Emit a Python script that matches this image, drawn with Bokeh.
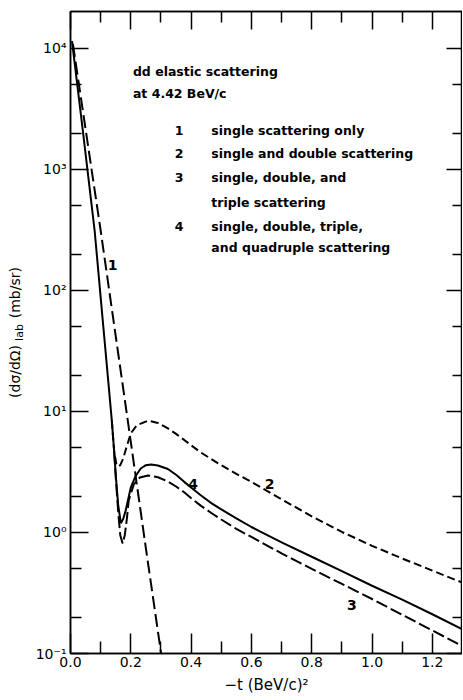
from bokeh.plotting import figure
from bokeh.models import (LinearAxis, LogAxis, FixedTicker, Range1d, Title,
                          NumeralTickFormatter)
from bokeh.core.properties import value
from bokeh.embed import file_html
from bokeh.resources import INLINE

# ---------------- data ----------------
# shared steep forward peak of curves 2, 3, 4
t_common = [0.005, 0.04, 0.08, 0.11, 0.137, 0.145]
y_common = [11500, 2190, 313, 46.7, 8.4, 4.6]

# curve 1: single scattering only
t_c1 = [0.008, 0.10, 0.19, 0.25, 0.30, 0.306]
y_c1 = [10900, 313, 8.4, 0.74, 0.102, 0.088]

# curve 2: single and double scattering
t_c2 = [0.152, 0.158, 0.165, 0.175, 0.185, 0.2, 0.22, 0.257, 0.29, 0.323,
        0.35, 0.377, 0.405, 0.433, 0.49, 0.55, 0.6, 0.7, 0.8, 0.9, 1.0,
        1.1, 1.2, 1.3]
y_c2 = [3.7, 3.5, 3.6, 4.1, 5.0, 6.6, 7.7, 8.4, 8.04, 7.24,
        6.53, 5.82, 5.15, 4.57, 3.72, 3.05, 2.62, 1.88, 1.36, 1.01, 0.776,
        0.61, 0.484, 0.385]

# curve 3: single, double and triple scattering
t_c3 = [0.15, 0.158, 0.165, 0.173, 0.18, 0.187, 0.193, 0.21, 0.23, 0.257,
        0.29, 0.323, 0.35, 0.377, 0.405, 0.433, 0.467, 0.5, 0.55, 0.6, 0.7,
        0.8, 0.9, 1.0, 1.1, 1.2, 1.3]
y_c3 = [2.9, 1.5, 0.95, 0.81, 0.95, 1.3, 1.84, 2.5, 2.85, 2.96,
        2.86, 2.64, 2.4, 2.15, 1.88, 1.66, 1.45, 1.28, 1.07, 0.918, 0.672,
        0.50, 0.376, 0.282, 0.209, 0.155, 0.115]

# curve 4: single, double, triple and quadruple scattering
t_c4 = [0.15, 0.158, 0.167, 0.175, 0.183, 0.2, 0.217, 0.233, 0.25, 0.267,
        0.29, 0.323, 0.35, 0.377, 0.405, 0.433, 0.467, 0.5, 0.55, 0.6, 0.7,
        0.8, 0.9, 1.0, 1.1, 1.2, 1.3]
y_c4 = [3.0, 1.7, 1.19, 1.3, 1.52, 2.36, 2.96, 3.38, 3.6, 3.65,
        3.58, 3.35, 3.0, 2.62, 2.3, 2.02, 1.75, 1.55, 1.31, 1.11, 0.83,
        0.63, 0.48, 0.363, 0.279, 0.211, 0.158]

x_major = [0.0, 0.2, 0.4, 0.6, 0.8, 1.0, 1.2]
x_minor = [0.1, 0.3, 0.5, 0.7, 0.9, 1.1]
y_major = [0.1, 1, 10, 100, 1000, 10000]
y_minor = [0.2, 0.5, 2, 5, 20, 50, 200, 500, 2000, 5000]
y_major_labels = ["10⁻¹", "10⁰", "10¹", "10²", "10³", "10⁴"]

title_lines = ["dd elastic scattering", "at 4.42 BeV/c"]
title_y = [6460, 4250]
legend_nums = ["1", "2", "3", "", "4", ""]
legend_text = ["single scattering only", "single and double scattering",
               "single, double, and", "triple scattering",
               "single, double, triple,", "and quadruple scattering"]
legend_y = [2100, 1355, 859, 533, 338, 226]

curve_labels = ["1", "4", "2", "3"]
curve_label_t = [0.14, 0.407, 0.66, 0.933]
curve_label_y = [161, 2.54, 2.54, 0.254]

FONT = "DejaVu Sans"
TXT_SIZE = "12.5px"
TXT_STYLE = "bold"

# ---------------- figure ----------------
p = figure(width=462, height=698, x_range=Range1d(0, 1.3),
           y_range=Range1d(0.1, 20200), y_axis_type="log",
           output_backend="svg", toolbar_location=None,
           min_border_left=70, min_border_right=0, min_border_top=11,
           min_border_bottom=45)
p.grid.visible = False
p.outline_line_color = "black"
p.outline_line_width = 1.5
p.background_fill_color = "white"
p.border_fill_color = "white"

xa = p.xaxis[0]
xa.ticker = FixedTicker(ticks=x_major, minor_ticks=x_minor)
xa.formatter = NumeralTickFormatter(format="0.0")
xa.major_tick_in = 20
xa.major_tick_out = 0
xa.minor_tick_in = 12
xa.minor_tick_out = 0
xa.major_tick_line_width = 1.5
xa.minor_tick_line_width = 1.5
xa.axis_line_width = 1.5
xa.major_label_text_font = FONT
xa.major_label_text_font_size = "14px"
xa.major_label_text_color = "black"
xa.major_label_standoff = 3
xa.axis_label = "−t (BeV/c)²"
xa.axis_label_text_font = FONT
xa.axis_label_text_font_size = "15px"
xa.axis_label_text_font_style = "normal"
xa.axis_label_text_color = "black"
xa.axis_label_standoff = 6

ya = p.yaxis[0]
ya.ticker = FixedTicker(ticks=y_major, minor_ticks=y_minor)
ya.major_label_overrides = {v: s for v, s in zip(y_major, y_major_labels)}
ya.major_tick_in = 18
ya.major_tick_out = 0
ya.minor_tick_in = 11
ya.minor_tick_out = 0
ya.major_tick_line_width = 1.5
ya.minor_tick_line_width = 1.5
ya.axis_line_width = 1.5
ya.major_label_text_font = FONT
ya.major_label_text_font_size = "14px"
ya.major_label_text_color = "black"
ya.major_label_standoff = 4
# blank axis label only reserves a little room before the y title
ya.axis_label = "\u00a0"
ya.axis_label_text_font = FONT
ya.axis_label_text_font_size = "8px"
ya.axis_label_standoff = 0

top = LinearAxis(ticker=FixedTicker(ticks=x_major, minor_ticks=x_minor),
                 major_tick_in=18, major_tick_out=0, minor_tick_in=11,
                 minor_tick_out=0, major_label_text_font_size="1px",
                 major_label_text_color=None,
                 major_label_standoff=0, axis_line_width=1.5,
                 major_tick_line_width=1.5, minor_tick_line_width=1.5)
p.add_layout(top, "above")
right = LogAxis(ticker=FixedTicker(ticks=y_major, minor_ticks=y_minor),
                major_tick_in=16, major_tick_out=0, minor_tick_in=10,
                minor_tick_out=0, major_label_text_font_size="1px",
                major_label_text_color=None,
                major_label_standoff=0, axis_line_width=1.5,
                major_tick_line_width=1.5, minor_tick_line_width=1.5)
p.add_layout(right, "right")

# y title: (dσ/dΩ)_lab (mb/sr); subscript first (nearer the axis), then the
# main text with a gap left for it, pulled over it by a negative standoff
ysub = Title(text="lab", align="center", standoff=-10, text_font=FONT,
             text_font_size="11px", text_font_style="normal",
             text_color="black")
p.add_layout(ysub, "left")
ytitle = Title(text="(dσ/dΩ)" + "\u00a0" * 6 + "(mb/sr)", align="center",
               standoff=-14, text_font=FONT, text_font_size="14px",
               text_font_style="normal", text_color="black")
p.add_layout(ytitle, "left")

# ---------------- curves ----------------
lw = 2
p.line(t_c1, y_c1, line_color="black", line_width=lw, line_dash="13 5")
p.line(t_common[-2:] + t_c2, y_common[-2:] + y_c2, line_color="black",
       line_width=lw, line_dash="8 4")
p.line(t_common[-1:] + t_c3, y_common[-1:] + y_c3, line_color="black",
       line_width=lw, line_dash="12 4")
p.line(t_common + t_c4, y_common + y_c4, line_color="black", line_width=lw)

# ---------------- texts ----------------
p.text([0.207] * 2, title_y, text=title_lines, text_font=value(FONT),
       text_font_size=TXT_SIZE, text_font_style=TXT_STYLE,
       text_baseline="middle", text_align="left", text_color="black")
p.text([0.36] * 6, legend_y, text=legend_nums, text_font=value(FONT),
       text_font_size=TXT_SIZE, text_font_style=TXT_STYLE,
       text_baseline="middle", text_align="center", text_color="black")
p.text([0.467] * 6, legend_y, text=legend_text, text_font=value(FONT),
       text_font_size=TXT_SIZE, text_font_style=TXT_STYLE,
       text_baseline="middle", text_align="left", text_color="black")
p.text(curve_label_t, curve_label_y, text=curve_labels, text_font=value(FONT),
       text_font_size="14px", text_font_style=TXT_STYLE,
       text_baseline="middle", text_align="center", text_color="black")

open("out.html", "w").write(file_html(p, INLINE))
